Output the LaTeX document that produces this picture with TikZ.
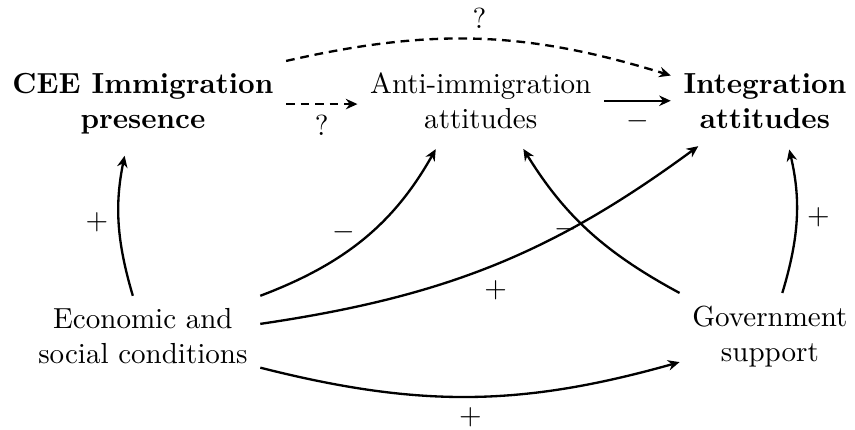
\documentclass[tikz,border=0pt]{standalone}
\usetikzlibrary{arrows.meta}
\begin{document}
\begin{tikzpicture}[>={Stealth[length=4pt,width=3.6pt]}, thick,
  var/.style={align=center, inner sep=4pt},
  key/.style={var, font=\bfseries},
  up/.style={->, shorten >=3pt}]
\useasboundingbox (0,0) rectangle (10.35,5.20);
\node[key] (cee) at (1.73,3.94) {CEE Immigration\\presence};
\node[var] (anti) at (5.82,3.98) {Anti-immigration\\attitudes};
\node[key] (integ) at (9.26,3.98) {Integration\\attitudes};
\node[var] (econ) at (1.73,1.13) {Economic and\\social conditions};
\node[var] (gov) at (9.32,1.13) {Government\\support};
% open questions
\draw[->, densely dashed] (cee.east) -- (cee.east -| anti.west) node[midway, below] {?};
\draw[->, densely dashed] (cee.north east) to[bend left=15] node[midway, above] {?} (integ.165);
\draw[->] (anti.east) -- (integ.west) node[midway, below] {$-$};
% effects of conditions
\draw[up] (econ.104) to[bend left=14] node[midway, left] {+} (cee.249);
\draw[up] (econ.north east) to[bend right=20] node[pos=0.45, above left=-3pt] {$-$} (anti.225);
\draw[up] (econ.6) to[bend right=14] node[midway, below, yshift=-2pt] {+} (integ.214);
\draw[->] (econ.345) to[bend right=15] node[midway, below] {+} (gov.196);
% effects of support
\draw[up] (gov.north west) to[bend left=15] node[midway, left] {$-$} (anti.313);
\draw[up] (gov.74) to[bend right=15] node[midway, right] {+} (integ.299);
\end{tikzpicture}
\end{document}
